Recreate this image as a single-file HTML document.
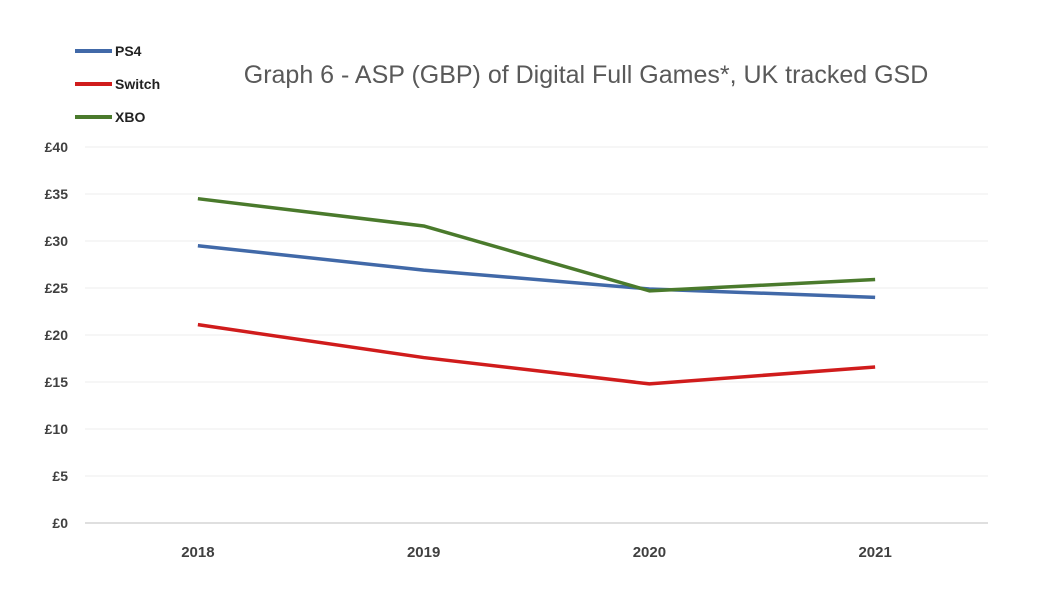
<!DOCTYPE html>
<html><head><meta charset="utf-8"><style>
body{margin:0;background:#fff;}
svg{display:block;font-family:"Liberation Sans",sans-serif;}
</style></head><body>
<svg id="chart" width="1053" height="601">
<text x="586" y="83" text-anchor="middle" font-size="25" fill="#595959">Graph 6 - ASP (GBP) of Digital Full Games*, UK tracked GSD</text>
<g id="grid"></g><g id="axes"></g><g id="series"></g><g id="legend"></g>
</svg>
<script>
const years = ["2018","2019","2020","2021"];
const ps4 = [29.5, 26.9, 24.9, 24.0];
const sw = [21.1, 17.6, 14.8, 16.6];
const xbo = [34.5, 31.6, 24.7, 25.9];
const ticks = [0,5,10,15,20,25,30,35,40];
const seriesNames = ["PS4","Switch","XBO"];
const NS="http://www.w3.org/2000/svg";
const L=85,R=988,T=147,B=523;
const y=v=>B-(v/40)*(B-T);
const x=i=>L+(R-L)*(i+0.5)/years.length;
function mk(tag,attrs,parent){const e=document.createElementNS(NS,tag);for(const k in attrs)e.setAttribute(k,attrs[k]);parent.appendChild(e);return e;}
const grid=document.getElementById('grid'),axes=document.getElementById('axes'),ser=document.getElementById('series'),leg=document.getElementById('legend');
ticks.forEach(t=>{
  const ln=mk('line',{x1:L,x2:R,y1:y(t),y2:y(t),stroke:t===0?'#bfbfbf':'#ececec','stroke-width':1},grid);
  
  
  const tx=mk('text',{x:68,y:y(t)+5,'text-anchor':'end','font-size':14,'font-weight':'bold',fill:'#404040'},axes);
  tx.textContent='£'+t;
  
  
});
years.forEach((yr,i)=>{
  const tx=mk('text',{x:x(i),y:557,'text-anchor':'middle','font-size':15,'font-weight':'bold',fill:'#404040'},axes);
  tx.textContent=yr;
  
  
});
const data=[ps4,sw,xbo],colors=['#4169a8','#d01c1c','#4a7a2c'];
data.forEach((d,s)=>{
  const p=mk('polyline',{points:d.map((v,i)=>x(i)+','+y(v)).join(' '),fill:'none',stroke:colors[s],'stroke-width':3.5,'stroke-linejoin':'round'},ser);
  
  
  const ly=51+s*33;
  const ll=mk('line',{x1:75,x2:112,y1:ly,y2:ly,stroke:colors[s],'stroke-width':4},leg);
  
  
  const lt=mk('text',{x:115,y:ly+5,'font-size':14,'font-weight':'bold',fill:'#222'},leg);
  lt.textContent=seriesNames[s];
  
  
});
</script>
</body></html>
